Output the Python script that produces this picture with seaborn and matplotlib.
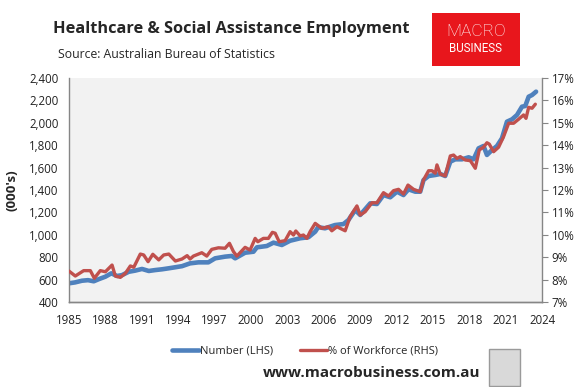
import matplotlib
matplotlib.use("Agg")
import matplotlib.pyplot as plt
import numpy as np
import pandas as pd
import seaborn as sns
from matplotlib.lines import Line2D
from matplotlib.patches import Rectangle
from matplotlib.ticker import FuncFormatter, MultipleLocator

# employment in health care & social assistance, '000s
number_year = [1985.00, 1985.50, 1986.07, 1986.57, 1987.04, 1987.48, 1988.00, 1988.49, 1988.96,
               1989.37, 1989.93, 1990.45, 1991.02, 1991.58, 1992.10, 1992.67, 1993.17, 1993.75,
               1994.32, 1994.98, 1995.67, 1996.49, 1997.05, 1997.87, 1998.42, 1998.70, 1999.52,
               2000.21, 2000.49, 2001.31, 2001.86, 2002.55, 2003.23, 2004.06, 2004.74, 2005.30,
               2005.54, 2006.11, 2006.93, 2007.63, 2008.04, 2008.60, 2009.01, 2009.84, 2010.39,
               2010.93, 2011.49, 2012.04, 2012.58, 2012.99, 2013.55, 2013.96, 2014.23, 2014.65,
               2015.20, 2015.61, 2016.02, 2016.44, 2016.85, 2017.40, 2017.95, 2018.36, 2018.77,
               2019.18, 2019.46, 2019.88, 2020.29, 2020.70, 2021.11, 2021.53, 2021.94, 2022.35,
               2022.62, 2022.90, 2023.18, 2023.51]
number_value = [567, 575, 590, 595, 585, 605, 626, 656, 632,
                640, 670, 680, 695, 677, 685, 692, 700, 710,
                720, 745, 754, 754, 790, 805, 811, 790, 840,
                849, 888, 900, 930, 909, 947, 969, 978, 1028,
                1068, 1058, 1087, 1096, 1132, 1221, 1177, 1281, 1275,
                1355, 1335, 1385, 1355, 1406, 1385, 1385, 1489, 1525,
                1534, 1543, 1525, 1653, 1674, 1674, 1692, 1674, 1772,
                1793, 1713, 1757, 1793, 1862, 2010, 2031, 2070, 2144,
                2150, 2233, 2248, 2278]

# share of the workforce, %
share_year = [1985.00, 1985.52, 1986.21, 1986.76, 1987.09, 1987.58, 1988.00, 1988.55, 1988.82,
              1989.23, 1989.65, 1990.06, 1990.34, 1990.88, 1991.16, 1991.52, 1991.91, 1992.40,
              1992.81, 1993.23, 1993.77, 1994.32, 1994.74, 1994.98, 1995.26, 1995.95, 1996.36,
              1996.77, 1997.32, 1997.87, 1998.23, 1998.56, 1998.84, 1999.52, 1999.93, 2000.35,
              2000.57, 2001.03, 2001.44, 2001.77, 2002.00, 2002.33, 2002.82, 2003.23, 2003.51,
              2003.70, 2004.06, 2004.33, 2004.61, 2004.88, 2005.30, 2005.85, 2006.39, 2006.67,
              2007.09, 2007.77, 2008.18, 2008.74, 2009.01, 2009.42, 2009.98, 2010.39, 2010.93,
              2011.35, 2011.76, 2012.17, 2012.58, 2012.95, 2013.41, 2013.96, 2014.23, 2014.65,
              2014.93, 2015.20, 2015.34, 2015.61, 2016.02, 2016.44, 2016.71, 2016.99, 2017.26,
              2017.67, 2018.09, 2018.50, 2018.83, 2019.18, 2019.46, 2019.65, 2020.01, 2020.42,
              2020.83, 2021.25, 2021.66, 2022.07, 2022.48, 2022.68, 2022.90, 2023.18, 2023.45]
share_value = [8.38, 8.16, 8.40, 8.40, 8.06, 8.40, 8.35, 8.65, 8.16,
               8.10, 8.28, 8.61, 8.55, 9.14, 9.10, 8.80, 9.13, 8.88,
               9.10, 9.14, 8.83, 8.92, 9.07, 8.92, 9.05, 9.20, 9.05,
               9.35, 9.42, 9.40, 9.62, 9.25, 9.05, 9.44, 9.32, 9.84,
               9.69, 9.84, 9.84, 10.11, 10.07, 9.69, 9.74, 10.14, 9.99,
               10.17, 9.95, 9.99, 9.84, 10.14, 10.51, 10.29, 10.36, 10.18,
               10.36, 10.18, 10.81, 11.29, 10.88, 11.03, 11.43, 11.43, 11.88,
               11.73, 11.97, 12.03, 11.82, 12.22, 12.03, 11.92, 12.45, 12.86,
               12.86, 12.75, 13.12, 12.71, 12.63, 13.52, 13.56, 13.41, 13.49,
               13.34, 13.31, 12.97, 13.79, 13.91, 14.11, 14.05, 13.71, 13.91,
               14.38, 14.98, 14.98, 15.16, 15.35, 15.20, 15.69, 15.65, 15.83]

x_ticks = list(range(1985, 2025, 3))

df_num = pd.DataFrame({"year": number_year, "value": number_value})
df_pct = pd.DataFrame({"year": share_year, "value": share_value})

sns.set_style("white")
plt.rcParams["font.family"] = ["Open Sans", "DejaVu Sans"]

BLUE = "#4f81bd"
RED = "#c0504d"
GREY = "#868686"
W, H = 583, 387

fig = plt.figure(figsize=(W / 100, H / 100), dpi=100)
ax = fig.add_axes([69 / W, 1 - 302 / H, (542 - 69) / W, (302 - 78) / H])
ax.set_facecolor("#f2f2f2")
ax2 = ax.twinx()

sns.lineplot(data=df_num, x="year", y="value", ax=ax, color=BLUE, linewidth=3.3)
sns.lineplot(data=df_pct, x="year", y="value", ax=ax2, color=RED, linewidth=2.4)

ax.set_xlim(1985, 2024)
ax.set_ylim(400, 2400)
ax2.set_ylim(7, 17)
ax.set_xticks(x_ticks)
ax.yaxis.set_major_locator(MultipleLocator(200))
ax2.yaxis.set_major_locator(MultipleLocator(1))
ax.yaxis.set_major_formatter(FuncFormatter(lambda v, p: f"{int(v):,}"))
ax2.yaxis.set_major_formatter(FuncFormatter(lambda v, p: f"{int(round(v))}%"))
ax.set_xlabel("")
ax.set_ylabel("")
ax2.set_ylabel("")

for a in (ax, ax2):
    a.spines["top"].set_visible(False)
    for s in ("left", "right", "bottom"):
        a.spines[s].set_color(GREY)
        a.spines[s].set_linewidth(1.0)
ax.spines["right"].set_visible(False)
ax2.spines["left"].set_visible(False)

ax.tick_params(axis="y", left=False, labelsize=8.3, pad=4, labelcolor="#222222")
ax.tick_params(axis="x", direction="in", length=4, color=GREY, labelsize=8.3, pad=9,
               labelcolor="#222222")
ax2.tick_params(axis="y", direction="out", length=4, color=GREY, labelsize=8.3, pad=3,
                labelcolor="#222222")

fig.text(12 / W, 1 - 190 / H, "(000's)", rotation=90, ha="center", va="center",
         fontsize=9.5, fontweight="bold")

# titles
fig.text(231 / W, 1 - 29 / H, "Healthcare & Social Assistance Employment", ha="center",
         va="center", fontsize=11.8, fontweight="bold")
fig.text(58 / W, 1 - 54 / H, "Source: Australian Bureau of Statistics", ha="left",
         va="center", fontsize=8.8)

# logo box
fig.patches.append(Rectangle((432 / W, 1 - 66 / H), 88 / W, 53 / H, transform=fig.transFigure,
                             facecolor="#e8161c", edgecolor="none"))
fig.text(476 / W, 1 - 31 / H, "MACRO", ha="center", va="center", fontsize=12.5, color="white",
         family=["Roboto", "DejaVu Sans"], fontweight="light")
fig.text(476 / W, 1 - 49 / H, "BUSINESS", ha="center", va="center", fontsize=8.3, color="white",
         family=["Roboto", "DejaVu Sans"])

# legend
handles = [Line2D([], [], color=BLUE, linewidth=3.3), Line2D([], [], color=RED, linewidth=2.4)]
fig.legend(handles, ["Number (LHS)", "% of Workforce (RHS)"], loc="center",
           bbox_to_anchor=(305 / W, 1 - 351 / H), ncol=2, frameon=False, fontsize=8,
           handlelength=2.4, handletextpad=0.05, columnspacing=2.5)

fig.text(480 / W, 1 - 373 / H, "www.macrobusiness.com.au", ha="right", va="center",
         fontsize=11, fontweight="bold")
fig.patches.append(Rectangle((489 / W, 1 - 386 / H), 31 / W, 37 / H, transform=fig.transFigure,
                             facecolor="#d9d9d9", edgecolor="#9a9a9a", linewidth=1.0))

fig.savefig("out.png", dpi=100)
